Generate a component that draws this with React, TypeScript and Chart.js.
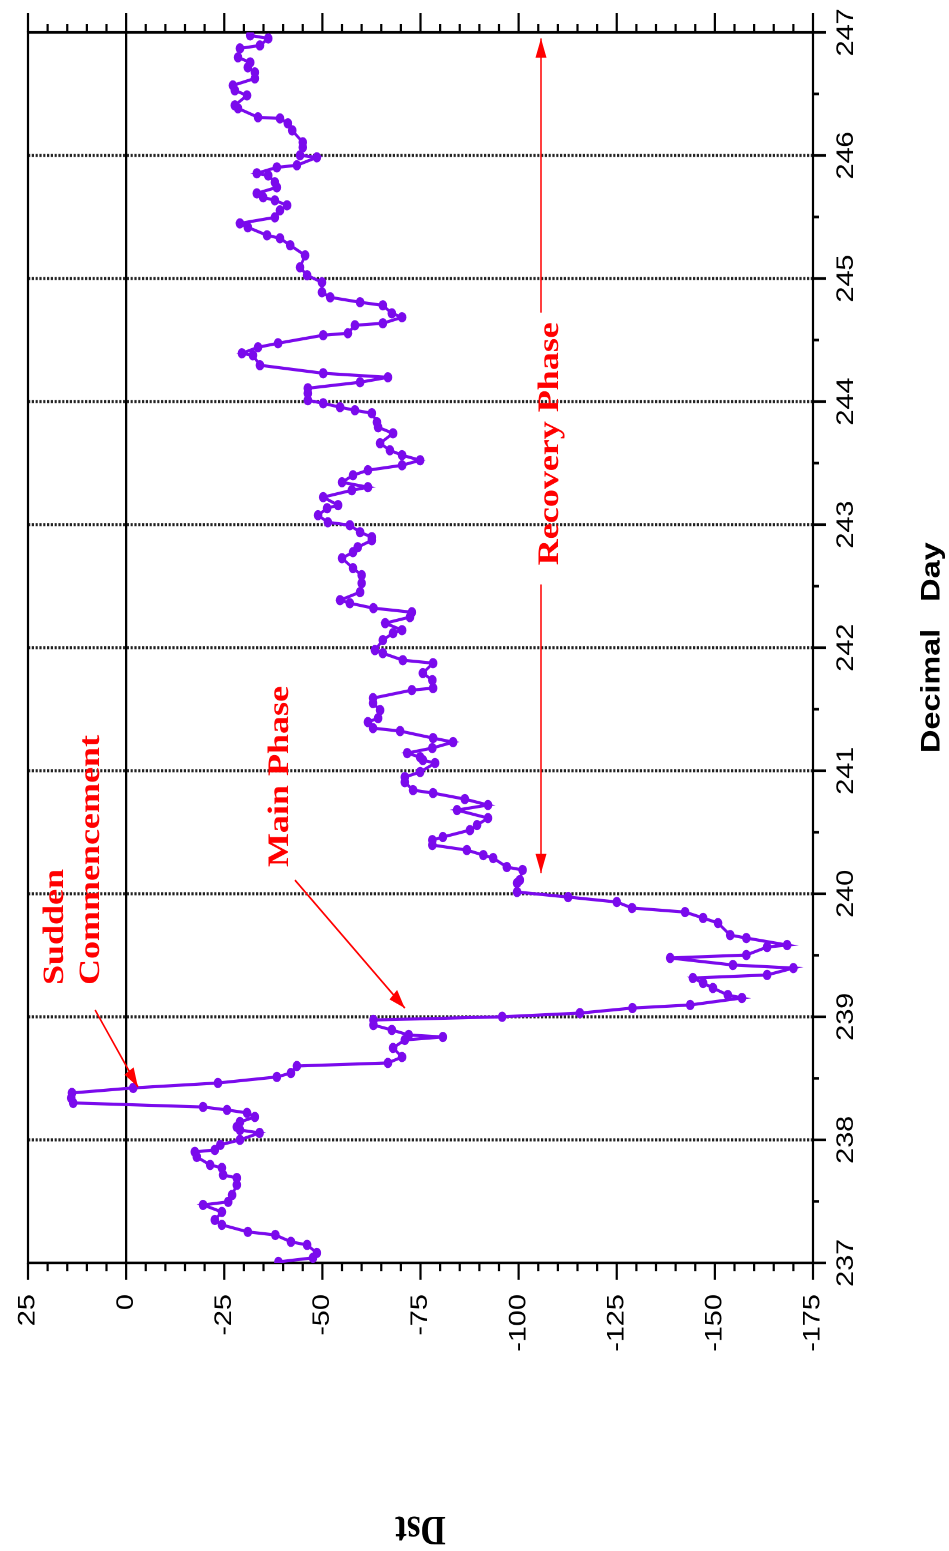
import React, { useEffect, useRef } from 'react';
import { Chart, registerables } from 'chart.js';

Chart.register(...registerables);

// ---------- data (decimal day, Dst in nT) ----------
const DAY: number[] = [
  237.008, 237.041, 237.081, 237.146, 237.171, 237.227, 237.252, 237.309, 237.349, 237.414,
  237.471, 237.496, 237.552, 237.634, 237.690, 237.715, 237.772, 237.796, 237.861, 237.902,
  237.918, 237.959,
  238.000, 238.056, 238.080, 238.105, 238.145, 238.186, 238.219, 238.243, 238.267, 238.300,
  238.340, 238.381, 238.422, 238.462, 238.511, 238.543, 238.600, 238.625, 238.673, 238.747,
  238.812, 238.836, 238.852, 238.893, 238.933, 238.974,
  239.000, 239.030, 239.071, 239.096, 239.153, 239.177, 239.234, 239.275, 239.315, 239.340,
  239.396, 239.421, 239.478, 239.502, 239.567, 239.583, 239.640, 239.664, 239.762, 239.803,
  239.851, 239.884, 239.933, 239.973,
  240.014, 240.087, 240.111, 240.193, 240.217, 240.290, 240.314, 240.355, 240.396, 240.436,
  240.461, 240.517, 240.558, 240.615, 240.680, 240.721, 240.769, 240.818, 240.842, 240.907,
  240.948, 240.989,
  241.062, 241.086, 241.110, 241.143, 241.184, 241.232, 241.265, 241.322, 241.346, 241.395,
  241.427, 241.492, 241.549, 241.590, 241.655, 241.671, 241.736, 241.793, 241.874, 241.898,
  241.955, 241.980,
  242.061, 242.118, 242.142, 242.199, 242.248, 242.288, 242.321, 242.361, 242.386, 242.451,
  242.524, 242.589, 242.646, 242.727, 242.776, 242.816, 242.873, 242.898, 242.938, 242.995,
  243.019, 243.076, 243.133, 243.158, 243.223, 243.279, 243.304, 243.344, 243.401, 243.442,
  243.482, 243.523, 243.564, 243.604, 243.661, 243.742, 243.791, 243.832, 243.905, 243.929,
  243.954, 243.986,
  244.011, 244.067, 244.108, 244.157, 244.197, 244.230, 244.295, 244.376, 244.392, 244.441,
  244.474, 244.539, 244.555, 244.620, 244.636, 244.685, 244.717, 244.782, 244.807, 244.847,
  244.888, 244.969,
  245.026, 245.091, 245.188, 245.270, 245.327, 245.351, 245.416, 245.448, 245.497, 245.554,
  245.595, 245.635, 245.660, 245.692, 245.741, 245.782, 245.838, 245.855, 245.903, 245.920,
  245.985,
  246.001, 246.066, 246.107, 246.204, 246.261, 246.301, 246.310, 246.383, 246.407, 246.488,
  246.529, 246.569, 246.626, 246.675, 246.716, 246.756, 246.797, 246.870, 246.894, 246.951,
  246.976,
];

const DST: number[] = [
  -38.8, -47.6, -48.6, -46.1, -42.0, -38.0, -31.0, -24.4, -22.6, -24.4,
  -19.6, -26.0, -27.0, -28.2, -28.2, -24.7, -24.4, -21.4, -18.0, -17.5,
  -22.6, -24.0,
  -29.0, -34.0, -29.0, -28.2, -29.0, -32.8, -30.8, -25.7, -19.6, 13.5,
  14.0, 13.8, -1.8, -23.4, -38.4, -42.0, -43.5, -66.7, -70.3, -68.0,
  -71.0, -80.7, -72.0, -67.7, -63.0, -63.0,
  -95.8, -115.6, -129.0, -143.7, -156.9, -153.3, -149.5, -147.0, -144.4, -163.3,
  -170.0, -154.6, -138.6, -158.0, -163.3, -168.4, -158.0, -153.9, -150.8, -147.0,
  -142.4, -128.9, -125.0, -112.6,
  -99.6, -99.6, -100.3, -101.0, -97.0, -93.5, -91.0, -86.8, -78.0, -78.0,
  -80.7, -87.6, -89.4, -92.2, -84.3, -92.2, -86.3, -78.2, -73.1, -71.0,
  -71.0, -74.9,
  -78.7, -75.6, -74.9, -71.6, -78.0, -83.3, -78.2, -69.8, -62.9, -61.6,
  -64.2, -64.7, -62.9, -62.9, -72.8, -78.2, -78.0, -75.6, -78.2, -70.5,
  -65.4, -63.4,
  -65.4, -68.0, -70.3, -66.0, -72.3, -72.8, -63.0, -57.0, -54.5, -59.6,
  -60.0, -60.0, -57.8, -55.0, -57.8, -59.0, -62.6, -62.6, -59.6, -57.0,
  -51.4, -48.9, -51.2, -54.0, -50.2, -57.5, -61.6, -55.0, -57.8, -61.6,
  -70.3, -74.9, -70.3, -67.2, -64.7, -68.0, -64.2, -63.9, -62.6, -58.3,
  -54.5, -50.2,
  -46.3, -46.3, -46.3, -59.6, -66.7, -50.2, -34.1, -32.3, -29.5, -33.6,
  -38.7, -50.2, -56.5, -58.3, -65.4, -70.3, -67.7, -65.4, -59.6, -52.0,
  -49.9, -49.9,
  -46.1, -44.3, -45.6, -41.8, -39.2, -35.9, -31.0, -29.0, -37.9, -39.2,
  -41.0, -37.9, -34.9, -33.3, -38.4, -37.9, -36.2, -33.3, -38.4, -43.5,
  -48.6,
  -44.3, -45.0, -45.0, -42.3, -41.2, -39.2, -33.6, -28.5, -27.7, -30.8,
  -27.7, -27.2, -32.8, -32.8, -31.0, -31.6, -28.5, -29.0, -34.1, -36.2,
  -31.6,
];

const DAY_TICKS: number[] = [237, 238, 239, 240, 241, 242, 243, 244, 245, 246, 247];
const DST_TICKS: number[] = [25, 0, -25, -50, -75, -100, -125, -150, -175];

const X_TITLE = 'Decimal   Day';
const Y_TITLE = 'Dst';

// annotations (positions in data units: day, Dst)
const SC_LINES: string[] = ['Sudden', 'Commencement'];
const SC_AT: number[] = [239.258, 16.1, 6.9];
const SC_ARROW: number[] = [239.055, 7.9, 238.43, -3.0];
const MP_TEXT = 'Main Phase';
const MP_AT: number[] = [240.217, -41.2];
const MP_ARROW: number[] = [240.111, -43.0, 239.071, -71.0];
const RP_TEXT = 'Recovery Phase';
const RP_AT: number[] = [242.67, -110.0];
const RP_ARROW: number[] = [240.168, 246.951, -105.7];

const PURPLE = '#7a0aec';
const RED = '#ff0000';
const SANS = '"Liberation Sans", Arial, Helvetica, sans-serif';
const SERIF = '"Liberation Serif", "Times New Roman", Times, serif';

const W0 = 1292;
const H0 = 949;
const SX = 1551 / W0;

function line(ctx: CanvasRenderingContext2D, x1: number, y1: number, x2: number, y2: number) {
  ctx.beginPath();
  ctx.moveTo(x1, y1);
  ctx.lineTo(x2, y2);
  ctx.stroke();
}

function arrowHead(ctx: CanvasRenderingContext2D, fx: number, fy: number, tx: number, ty: number) {
  const a = Math.atan2(ty - fy, tx - fx);
  const L = 16;
  const Wd = 5.5;
  const bx = tx - L * Math.cos(a);
  const by = ty - L * Math.sin(a);
  ctx.beginPath();
  ctx.moveTo(tx, ty);
  ctx.lineTo(bx + Wd * Math.sin(a), by - Wd * Math.cos(a));
  ctx.lineTo(bx - Wd * Math.sin(a), by + Wd * Math.cos(a));
  ctx.closePath();
  ctx.fill();
}

const framePlugin = {
  id: 'frameTicks',
  beforeDatasetsDraw(chart: any) {
    const { ctx, chartArea, scales } = chart;
    const { left, right, top, bottom } = chartArea;
    const x = scales.x;
    const y = scales.y;
    ctx.save();
    // dotted day grid lines
    ctx.strokeStyle = '#222';
    ctx.lineWidth = 2.6;
    ctx.setLineDash([2.2, 1.6]);
    DAY_TICKS.forEach((d) => {
      if (d > DAY_TICKS[0] && d < DAY_TICKS[DAY_TICKS.length - 1]) {
        const px = x.getPixelForValue(d);
        line(ctx, px, top, px, bottom);
      }
    });
    ctx.setLineDash([]);
    ctx.strokeStyle = '#000';
    ctx.lineWidth = 2.2;
    // zero line
    const y0 = y.getPixelForValue(0);
    line(ctx, left, y0, right, y0);
    // frame
    ctx.strokeRect(left, top, right - left, bottom - top);
    // Dst ticks (major 25, minor 5) on both sides
    const dMin = DST_TICKS[DST_TICKS.length - 1];
    const dMax = DST_TICKS[0];
    for (let v = dMin; v <= dMax; v += 5) {
      const py = y.getPixelForValue(v);
      const major = v % 25 === 0;
      line(ctx, left - (major ? 14 : 7), py, left, py);
      line(ctx, right, py, right + (major ? 16 : 7), py);
    }
    // Day ticks (major 1, minor 0.5)
    for (let d = DAY_TICKS[0]; d <= DAY_TICKS[DAY_TICKS.length - 1]; d += 0.5) {
      const px = x.getPixelForValue(d);
      const major = Number.isInteger(d);
      line(ctx, px, bottom, px, bottom + (major ? 13 : 6));
    }
    ctx.restore();
  },
};

const annotationPlugin = {
  id: 'stormAnnotations',
  afterDatasetsDraw(chart: any) {
    const { ctx, scales } = chart;
    const x = scales.x;
    const y = scales.y;
    const P = (d: number, v: number) => [x.getPixelForValue(d), y.getPixelForValue(v)];
    ctx.save();
    ctx.fillStyle = RED;
    ctx.strokeStyle = RED;
    ctx.lineWidth = 1.6;
    ctx.font = `bold 30px ${SERIF}`;
    ctx.textAlign = 'left';
    ctx.textBaseline = 'alphabetic';

    // Sudden Commencement
    SC_LINES.forEach((t, i) => {
      const [px, py] = P(SC_AT[0], SC_AT[1 + i]);
      ctx.fillText(t, px, py);
    });
    {
      const [fx, fy] = P(SC_ARROW[0], SC_ARROW[1]);
      const [tx, ty] = P(SC_ARROW[2], SC_ARROW[3]);
      line(ctx, fx, fy, tx, ty);
      arrowHead(ctx, fx, fy, tx, ty);
    }

    // Main Phase
    {
      const [px, py] = P(MP_AT[0], MP_AT[1]);
      ctx.fillText(MP_TEXT, px, py);
      const [fx, fy] = P(MP_ARROW[0], MP_ARROW[1]);
      const [tx, ty] = P(MP_ARROW[2], MP_ARROW[3]);
      line(ctx, fx, fy, tx, ty);
      arrowHead(ctx, fx, fy, tx, ty);
    }

    // Recovery Phase
    {
      const [px, py] = P(RP_AT[0], RP_AT[1]);
      ctx.fillText(RP_TEXT, px, py);
      const w = ctx.measureText(RP_TEXT).width;
      const [ax1, ay] = P(RP_ARROW[0], RP_ARROW[2]);
      const [ax2] = P(RP_ARROW[1], RP_ARROW[2]);
      const g1 = px - 16;
      const g2 = px + w + 8;
      line(ctx, ax1, ay, g1, ay);
      line(ctx, g2, ay, ax2, ay);
      arrowHead(ctx, g1, ay, ax1, ay);
      arrowHead(ctx, g2, ay, ax2, ay);
    }
    ctx.restore();
  },
};

export default function App() {
  const ref = useRef<HTMLCanvasElement>(null);

  useEffect(() => {
    const canvas = ref.current;
    if (!canvas) return;
    const points = DAY.map((d, i) => ({ x: d, y: DST[i] }));
    const chart = new Chart(canvas, {
      type: 'line',
      data: {
        datasets: [
          {
            data: points,
            borderColor: PURPLE,
            backgroundColor: PURPLE,
            pointBackgroundColor: PURPLE,
            pointBorderColor: PURPLE,
            borderWidth: 2.6,
            pointRadius: 4.3,
            pointBorderWidth: 0,
            pointStyle: 'circle',
            tension: 0,
            fill: false,
          },
        ],
      },
      options: {
        responsive: false,
        animation: false,
        devicePixelRatio: 2,
        layout: { padding: { left: 0, top: 28, right: 27, bottom: 0 } },
        plugins: {
          legend: { display: false },
          tooltip: { enabled: false },
        },
        scales: {
          x: {
            type: 'linear',
            position: 'bottom',
            min: DAY_TICKS[0],
            max: DAY_TICKS[DAY_TICKS.length - 1],
            afterBuildTicks: (s: any) => {
              s.ticks = DAY_TICKS.map((v) => ({ value: v }));
            },
            afterFit: (s: any) => {
              s.height = 136;
              s.paddingLeft = 0;
              s.paddingRight = 0;
              s.paddingTop = 0;
              s.paddingBottom = 0;
            },
            ticks: {
              autoSkip: false,
              maxRotation: 0,
              minRotation: 0,
              padding: 19,
              color: '#000',
              font: { family: SANS, size: 24 },
              callback: (v: any) => String(v),
            },
            grid: { display: false, drawTicks: false },
            border: { display: false },
            title: {
              display: true,
              text: X_TITLE,
              color: '#000',
              font: { family: SANS, size: 27, weight: 'bold' },
              padding: { top: 0, bottom: 1 },
            },
          },
          y: {
            type: 'linear',
            position: 'left',
            min: DST_TICKS[DST_TICKS.length - 1],
            max: DST_TICKS[0],
            afterBuildTicks: (s: any) => {
              s.ticks = DST_TICKS.map((v) => ({ value: v }));
            },
            afterFit: (s: any) => {
              s.width = 240;
              s.paddingLeft = 0;
              s.paddingRight = 0;
              s.paddingTop = 0;
              s.paddingBottom = 0;
            },
            ticks: {
              autoSkip: false,
              padding: 26,
              color: '#000',
              font: { family: SANS, size: 24 },
              callback: (v: any) => String(v),
            },
            grid: { display: false, drawTicks: false },
            border: { display: false },
            title: {
              display: true,
              text: Y_TITLE,
              color: '#000',
              font: { family: SERIF, size: 35, weight: 'bold', lineHeight: 1.1 },
              padding: { top: 0, bottom: 0 },
            },
          },
        },
      } as any,
      plugins: [framePlugin, annotationPlugin],
    });
    return () => chart.destroy();
  }, []);

  return (
    <div
      style={{
        position: 'absolute',
        left: 0,
        top: 0,
        width: 949,
        height: 1551,
        overflow: 'hidden',
        background: '#fff',
      }}
    >
      <div
        style={{
          position: 'absolute',
          left: 0,
          top: 0,
          width: W0,
          height: H0,
          transformOrigin: '0 0',
          transform: `translateY(1551px) rotate(-90deg) scaleX(${SX})`,
        }}
      >
        <canvas ref={ref} width={W0} height={H0} style={{ display: 'block', width: W0, height: H0 }} />
      </div>
    </div>
  );
}
